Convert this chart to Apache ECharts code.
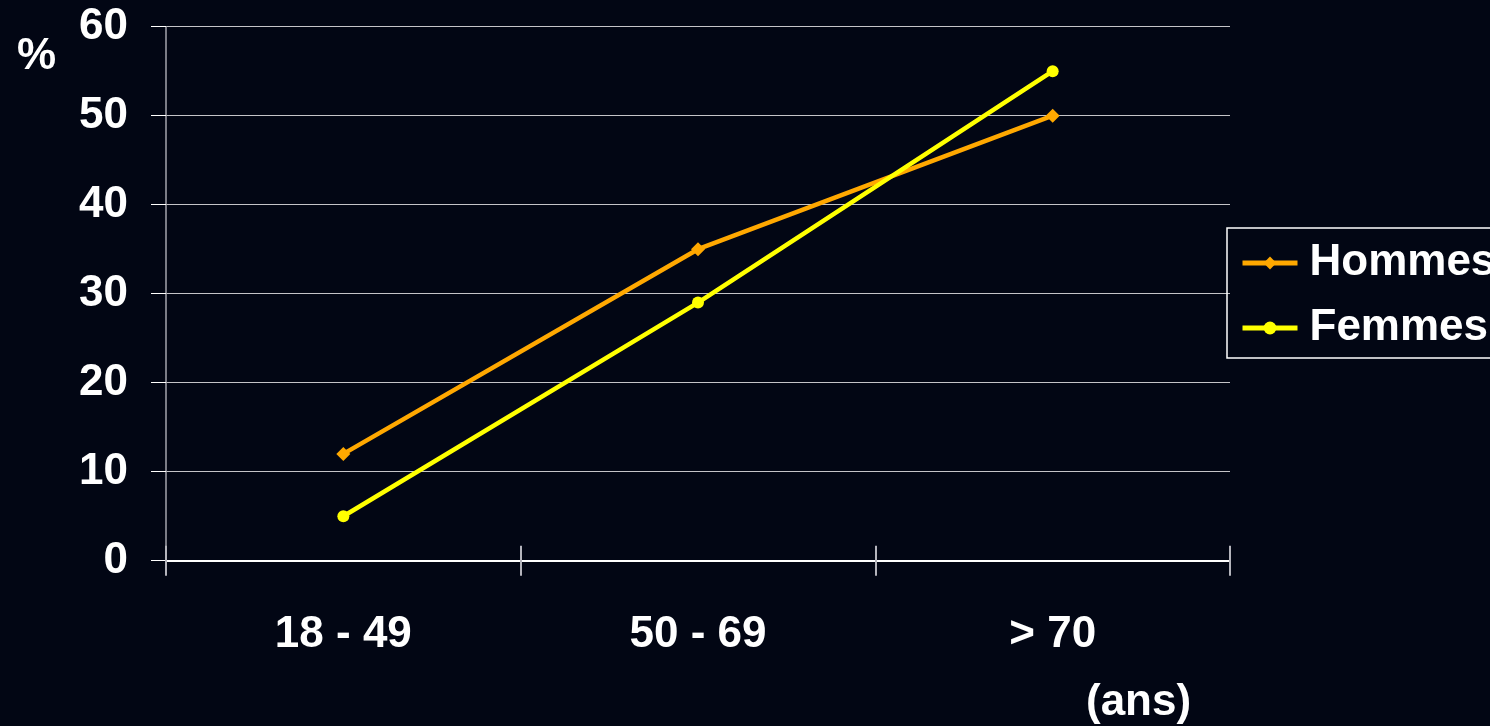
<!DOCTYPE html>
<html>
<head>
<meta charset="utf-8">
<title>Prévalence par âge</title>
<script src="https://cdn.jsdelivr.net/npm/echarts@6/dist/echarts.min.js"></script>
<style>
  html, body { margin: 0; padding: 0; background: #020614; }
  #chart { width: 1490px; height: 726px; }
</style>
</head>
<body>
<div id="chart"></div>
<script>
// Age groups on the x axis
const categories = ['18 - 49', '50 - 69', '> 70'];
// Percentages per age group
const hommes = [12, 35, 50];
const femmes = [5, 29, 55];
// Value axis range
const yMin = 0;
const yMax = 60;
const yStep = 10;

const FONT = '"Liberation Sans", Arial, Helvetica, sans-serif';

const chart = echarts.init(document.getElementById('chart'), null, { renderer: 'canvas' });

const labelStyle = {
  color: '#ffffff',
  fontFamily: FONT,
  fontWeight: 'bold',
  fontSize: 44
};

chart.setOption({
  backgroundColor: '#020614',
  animation: false,
  grid: { left: 166, right: 260, top: 26.7, bottom: 165.3, containLabel: false, outerBoundsMode: 'none' },
  legend: {
    orient: 'vertical',
    left: 1227,
    top: 228,
    padding: [10, 30, 5, 13],
    itemWidth: 55,
    itemHeight: 16,
    itemGap: 15,
    borderColor: '#ffffff',
    borderWidth: 1.5,
    lineStyle: { width: 5 },
    textStyle: Object.assign({}, labelStyle, { lineHeight: 50, padding: [0, 0, 0, 7] }),
    data: ['Hommes', 'Femmes']
  },
  xAxis: [
    {
      type: 'category',
      data: categories,
      boundaryGap: true,
      axisLine: { show: true, lineStyle: { color: '#ffffff', width: 2 } },
      axisTick: { show: true, length: 15, inside: false, lineStyle: { color: '#b4b4bc', width: 2 } },
      axisLabel: Object.assign({}, labelStyle, { margin: 52 }),
      splitLine: { show: false }
    },
    {
      type: 'category',
      data: categories,
      position: 'bottom',
      boundaryGap: true,
      axisLine: { show: false },
      axisTick: { show: true, length: 15, inside: true, lineStyle: { color: '#b4b4bc', width: 2 } },
      axisLabel: { show: false },
      splitLine: { show: false }
    }
  ],
  yAxis: {
    type: 'value',
    min: yMin,
    max: yMax,
    interval: yStep,
    axisLine: { show: true, lineStyle: { color: '#a4a4ac', width: 1.5 } },
    axisTick: { show: true, length: 15, lineStyle: { color: '#ffffff', width: 1 } },
    axisLabel: Object.assign({}, labelStyle, { margin: 38, padding: [5, 0, 0, 0] }),
    splitLine: { show: true, lineStyle: { color: '#c4c4c8', width: 1 } }
  },
  graphic: [
    {
      type: 'text',
      left: 17,
      top: 35,
      style: { text: '%', fill: '#ffffff', font: 'bold 44px ' + FONT }
    },
    {
      type: 'text',
      left: 1086,
      top: 681,
      style: { text: '(ans)', fill: '#ffffff', font: 'bold 44px ' + FONT }
    }
  ],
  series: [
    {
      name: 'Hommes',
      type: 'line',
      data: hommes,
      symbol: 'diamond',
      symbolSize: 14,
      lineStyle: { color: '#ffa800', width: 4.5 },
      itemStyle: { color: '#ffa800' },
      z: 3
    },
    {
      name: 'Femmes',
      type: 'line',
      data: femmes,
      symbol: 'circle',
      symbolSize: 12,
      lineStyle: { color: '#ffff00', width: 4.5 },
      itemStyle: { color: '#ffff00' },
      z: 4
    }
  ]
});
</script>
</body>
</html>
